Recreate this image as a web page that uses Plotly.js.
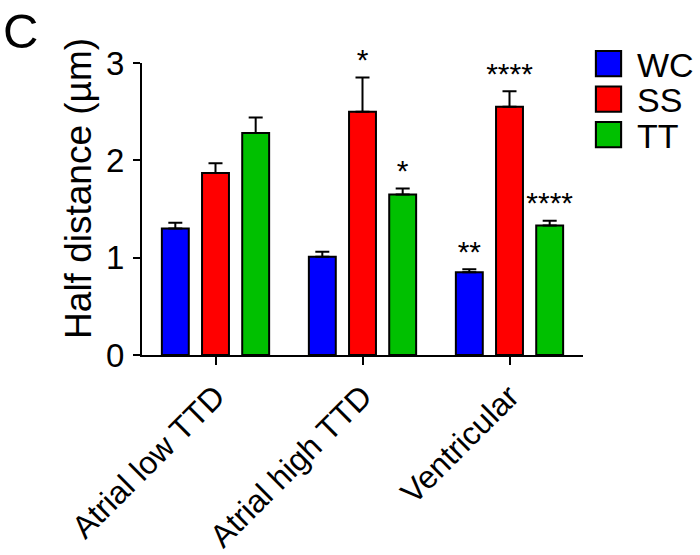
<!DOCTYPE html>
<html>
<head>
<meta charset="utf-8">
<script src="https://cdn.plot.ly/plotly-3.0.1.min.js"></script>
<style>html,body{margin:0;padding:0;background:#fff;}#chart{width:700px;height:555px;}</style>
</head>
<body>
<div id="chart"></div>
<script>
// ---- data ----
var categories = ['Atrial low TTD', 'Atrial high TTD', 'Ventricular'];
var seriesNames = ['WC', 'SS', 'TT'];
var wcMean = [1.30, 1.01, 0.85];
var wcSem  = [0.06, 0.05, 0.03];
var ssMean = [1.87, 2.50, 2.55];
var ssSem  = [0.10, 0.35, 0.16];
var ttMean = [2.28, 1.65, 1.33];
var ttSem  = [0.16, 0.06, 0.05];
var wcStars = ['', '', '**'];
var ssStars = ['', '*', '****'];
var ttStars = ['', '*', '****'];
var yTicks = [0, 1, 2, 3];

var FONT = 'Liberation Sans, Arial, Helvetica, sans-serif';
var colors = ['#0000ff', '#ff0000', '#00c000'];
var means = [wcMean, ssMean, ttMean];
var sems = [wcSem, ssSem, ttSem];
var stars = [wcStars, ssStars, ttStars];
var bargap = 0.18;

var traces = means.map(function (m, j) {
  return {
    type: 'bar',
    name: seriesNames[j],
    x: categories,
    y: m,
    marker: {color: colors[j], line: {color: '#000', width: 2}},
    error_y: {type: 'data', symmetric: false, array: sems[j], arrayminus: sems[j].map(function(){return 0;}),
              color: '#000', thickness: 2, width: 7}
  };
});

// significance stars: text points at the top of each error bar, on an overlaid linear x axis
var slot = (1 - bargap) / 3;
stars.forEach(function (s, j) {
  traces.push({
    type: 'scatter', mode: 'text', xaxis: 'x2', yaxis: 'y',
    x: categories.map(function (c, i) { return i + (j - 1) * slot; }),
    y: means[j].map(function (v, i) { return v + sems[j][i]; }),
    text: s, textposition: 'top center', cliponaxis: false, showlegend: false, hoverinfo: 'skip',
    textfont: {family: FONT, size: 30, color: '#000'}
  });
});

var annotations = [];
annotations.push({xref: 'paper', yref: 'paper', x: -0.143, y: 0.572, text: 'Half distance (µm)',
  textangle: -90, showarrow: false, xanchor: 'center', yanchor: 'middle',
  font: {family: FONT, size: 37, color: '#000'}});
annotations.push({xref: 'paper', yref: 'paper', x: -0.276, y: 1.11, text: 'C',
  showarrow: false, xanchor: 'center', yanchor: 'middle',
  font: {family: FONT, size: 49, color: '#000'}});

var layout = {
  width: 700, height: 555,
  margin: {l: 142, r: 117, t: 63, b: 200, pad: 0, autoexpand: false},
  paper_bgcolor: '#fff', plot_bgcolor: '#fff',
  font: {family: FONT, color: '#000', size: 30},
  barmode: 'group', bargap: bargap, bargroupgap: 0.33,
  showlegend: true,
  legend: {x: 1.00454, y: 1.0958, xanchor: 'left', yanchor: 'top', font: {family: FONT, size: 34}, itemwidth: 30,
           bgcolor: 'rgba(0,0,0,0)', tracegroupgap: 0},
  xaxis: {range: [-0.5, 2.5], showline: true, linecolor: '#000', linewidth: 2, ticks: 'outside', ticklen: 8,
          tickwidth: 2, tickcolor: '#000', tickangle: -45, tickfont: {family: FONT, size: 32}, showgrid: false,
          zeroline: false, fixedrange: true},
  xaxis2: {type: 'linear', overlaying: 'x', range: [-0.5, 2.5], visible: false, fixedrange: true},
  yaxis: {range: [0, 3], tickvals: yTicks, ticktext: yTicks.map(String), showline: true, linecolor: '#000', linewidth: 2,
          ticks: 'outside', ticklen: 7, tickwidth: 2, tickcolor: '#000', tickfont: {family: FONT, size: 33},
          showgrid: false, zeroline: false, ticklabelstandoff: 2},
  annotations: annotations
};

Plotly.newPlot('chart', traces, layout, {staticPlot: true}).then(function (gd) {
  var sb = gd.querySelector('.legend .scrollbox');
  if (sb) sb.removeAttribute('clip-path');
  gd.querySelectorAll('.legend .traces').forEach(function (g, i) {
    var t = g.getAttribute('transform') || '';
    var m = /translate\(\s*([-\d.]+)[ ,]+([-\d.]+)\s*\)/.exec(t);
    var x = m ? parseFloat(m[1]) : 0;
    var y = m ? parseFloat(m[2]) : 0;
    if (i === 0) gd._legendY0 = y;
    g.setAttribute('transform', 'translate(' + x + ',' + (gd._legendY0 + i * 35.5) + ')');
    var p = g.querySelector('.legendpoints path');
    if (p) {
      p.setAttribute('transform', 'translate(' + (23.5 - x) + ',0) scale(2.1)');
      p.style.strokeWidth = '1px';
    }
    var tx = g.querySelector('text.legendtext');
    if (tx) {
      tx.setAttribute('x', 52 - x);
      tx.querySelectorAll('tspan').forEach(function (ts) { if (ts.hasAttribute('x')) ts.setAttribute('x', 52 - x); });
    }
  });
});
</script>
</body>
</html>
